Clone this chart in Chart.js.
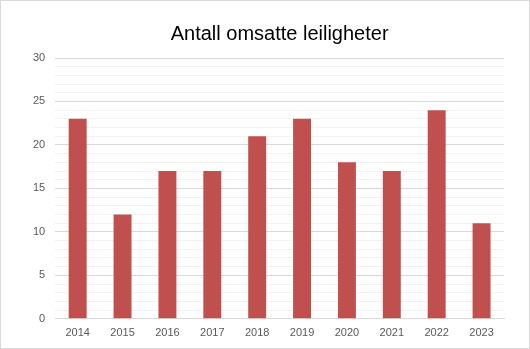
<!DOCTYPE html>
<html>
<head>
<meta charset="utf-8">
<script src="https://cdn.jsdelivr.net/npm/chart.js@4/dist/chart.umd.min.js"></script>
<style>
  html, body { margin: 0; padding: 0; background: #fff; }
  #wrap { width: 528px; height: 347px; border: 1px solid #d9d9d9; position: relative; }
  canvas { display: block; }
</style>
</head>
<body>
<div id="wrap"><canvas id="c" width="528" height="347"></canvas></div>
<script>
// Sold apartments per year
const years = ['2014', '2015', '2016', '2017', '2018', '2019', '2020', '2021', '2022', '2023'];
const sold = [23, 12, 17, 17, 21, 23, 18, 17, 24, 11];
const yMax = 30;
const yMajorStep = 5;

new Chart(document.getElementById('c'), {
  type: 'bar',
  data: {
    labels: years,
    datasets: [{
      label: 'Antall omsatte leiligheter',
      data: sold,
      backgroundColor: '#c0504d',
      borderWidth: 0,
      categoryPercentage: 1,
      barPercentage: 0.4
    }]
  },
  options: {
    responsive: false,
    animation: false,
    layout: { padding: { left: 22, right: 25, top: 10, bottom: 0 } },
    plugins: {
      legend: { display: false },
      tooltip: { enabled: false },
      title: {
        display: true,
        fullSize: false,
        text: 'Antall omsatte leiligheter',
        color: '#000',
        font: { family: 'Liberation Sans, Arial, sans-serif', size: 20, weight: 'normal' },
        padding: { top: 11, bottom: 12 }
      }
    },
    scales: {
      x: {
        grid: { display: false, drawTicks: false },
        border: { display: true, color: '#d9d9d9', width: 1 },
        ticks: {
          color: '#595959',
          font: { family: 'Liberation Sans, Arial, sans-serif', size: 11 },
          padding: 8,
          maxRotation: 0
        }
      },
      y: {
        min: 0,
        max: yMax,
        grid: {
          drawTicks: false,
          color: ctx => (ctx.tick && ctx.tick.value % yMajorStep === 0) ? '#d9d9d9' : '#f2f2f2',
          lineWidth: 1
        },
        border: { display: false },
        ticks: {
          stepSize: 1,
          autoSkip: false,
          color: '#595959',
          font: { family: 'Liberation Sans, Arial, sans-serif', size: 11 },
          padding: 10,
          callback: v => (v % yMajorStep === 0 ? String(v) : '')
        }
      }
    }
  }
});
</script>
</body>
</html>
